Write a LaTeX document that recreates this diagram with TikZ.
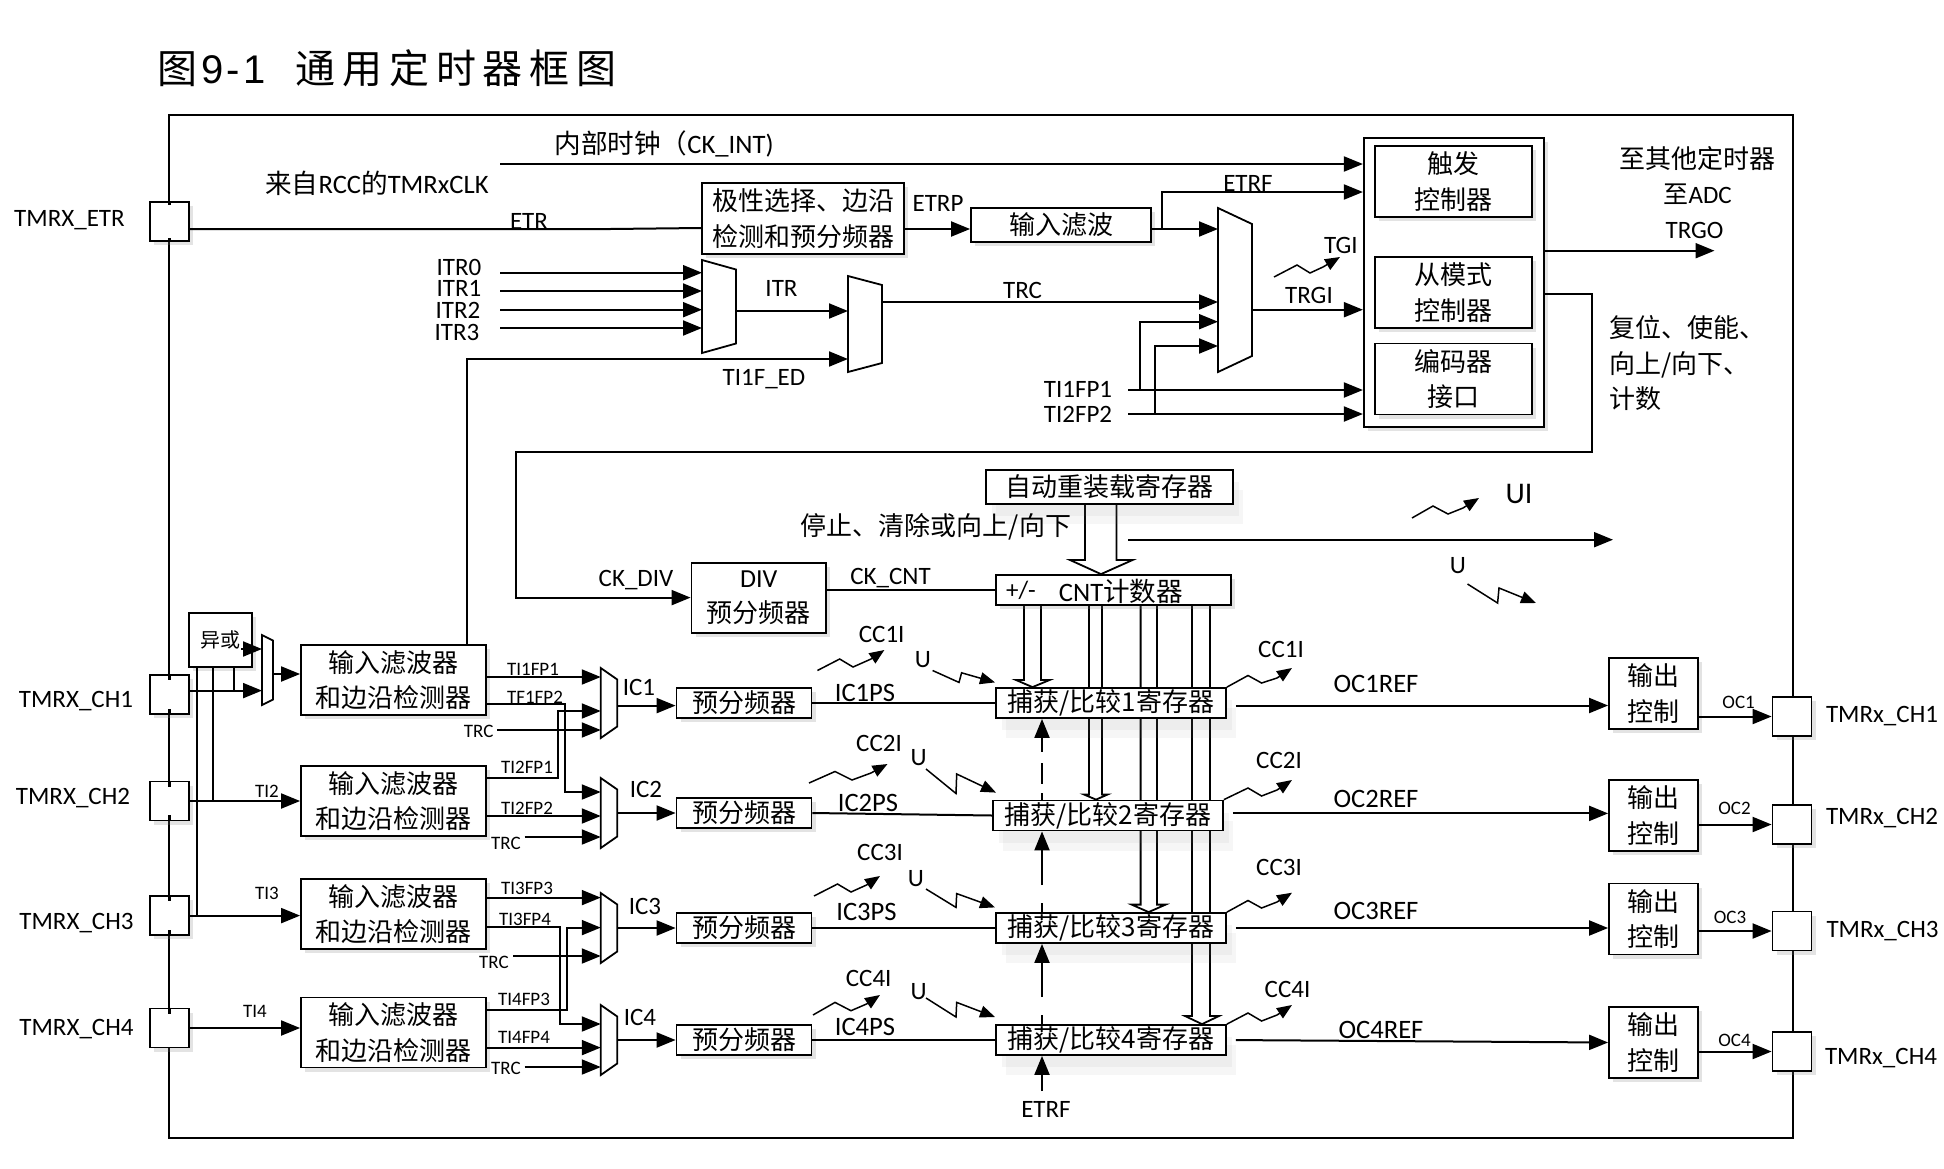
\documentclass[tikz,border=0pt]{standalone}
\usepackage{fontspec}
\usetikzlibrary{arrows.meta,shadows,backgrounds}
\setmainfont{Carlito}
\newfontfamily\cjk{Noto Sans CJK SC}
\newfontfamily\titlefont{Noto Sans CJK SC}[LetterSpace=17]
\newfontfamily\titlenum{Liberation Sans}[LetterSpace=8]
\newlength{\du}
\setlength{\du}{0.5pt}
\definecolor{dialinecolor}{rgb}{0.000000, 0.000000, 0.000000}
\tikzset{
  lbl/.style={inner sep=0pt, text=dialinecolor, font=\fontsize{12.5}{15}\selectfont},
  lblb/.style={inner sep=0pt, text=dialinecolor, font=\fontsize{13.3}{15}\selectfont},
  lbls/.style={inner sep=0pt, text=dialinecolor, font=\fontsize{9.5}{11}\selectfont},
  lblz/.style={inner sep=0pt, text=dialinecolor, align=left, font=\cjk\fontsize{13}{17.7}\selectfont},
  softbox/.style={draw=dialinecolor, fill=white, line width=1.8\du, inner sep=0pt, align=center,
    font=\cjk\fontsize{13}{17.7}\selectfont,
    drop shadow={shadow xshift=2pt, shadow yshift=-2pt, opacity=0.22}},
  regshadow/.style={draw=dialinecolor, fill=white, line width=1.8\du, inner sep=0pt, align=center,
    font=\cjk\fontsize{13}{17.7}\selectfont,
    drop shadow={shadow xshift=5pt, shadow yshift=-10pt, opacity=0.07},
    drop shadow={shadow xshift=3pt, shadow yshift=-6pt, opacity=0.08}},
  padbox/.style={softbox, minimum width=39\du, minimum height=39\du},
  filterbox/.style={softbox, minimum width=185\du, minimum height=70\du},
  prebox/.style={softbox, minimum width=135\du, minimum height=30\du},
  regbox/.style={regshadow, minimum width=230\du, minimum height=30\du},
  outbox/.style={softbox, minimum width=89\du, minimum height=71\du},
  modebox/.style={softbox, minimum width=157\du, minimum height=71\du},
  muxline/.style={draw=dialinecolor, fill=white, line width=1.8\du},
  frameline/.style={draw=dialinecolor, line width=2.6\du},
  wire/.style={draw=dialinecolor, line width=2\du},
  arr/.style={wire, -{Triangle[length=9.5pt,width=7.5pt]}},
  zig/.style={draw=dialinecolor, line width=1.5\du, -{Triangle[length=7.5pt,width=6pt]}},
  hollowline/.style={draw=dialinecolor, line width=1.8\du, line join=miter},
}
\newcommand{\muxnode}[6]{%
  \node[inner sep=0pt, outer sep=0pt, minimum width=#4\du, minimum height=#5\du] (#1) at (#2\du,#3\du) {};
  \draw[muxline] (#1.north west) -- ([yshift=#6\du]#1.north east) -- ([yshift=-#6\du]#1.south east) -- (#1.south west) -- cycle;}
\newcommand{\bigarrow}[8]{%
  \draw[hollowline] (#3\du,0 |- #1.south) -- (#3\du,#7\du) -- (#5\du,#7\du) -- (#8\du,0 |- #2.north)
    -- (#6\du,#7\du) -- (#4\du,#7\du) -- (#4\du,0 |- #1.south);}
\newcommand{\lowtext}[1]{\raisebox{-1.2pt}{#1}}
\begin{document}
\begin{tikzpicture}
\pgftransformxscale{1.000000}
\pgftransformyscale{-1.000000}
\useasboundingbox (0,0) rectangle (1944\du,1168\du);
\node[anchor=west, inner sep=0pt, font=\titlefont\fontsize{20}{24}\selectfont] (title) at (157\du,68\du) {图{\titlenum\hspace{2pt}9-1}\hspace{15pt}通用定时器框图};
\draw[frameline] (169\du,115\du) rectangle (1793\du,1138\du);
% pads
\node[padbox] (padE) at (169.5\du,221.5\du) {};
\node[padbox] (chA) at (169.5\du,694.5\du) {};
\node[padbox] (chB) at (169.5\du,801\du) {};
\node[padbox] (chC) at (169.5\du,915.5\du) {};
\node[padbox] (chD) at (169.5\du,1028\du) {};
\node[padbox] (rchA) at (1792\du,716.5\du) {};
\node[padbox] (rchB) at (1792\du,824.5\du) {};
\node[padbox] (rchC) at (1792\du,931\du) {};
\node[padbox] (rchD) at (1792\du,1051.5\du) {};
\draw[frameline] (padE.north) -- ++(0,4\du) (padE.south) -- ++(0,-4\du);
\draw[frameline] (chA.north) -- ++(0,6\du) (chA.south) -- ++(0,-6\du);
\draw[frameline] (chB.north) -- ++(0,6\du) (chB.south) -- ++(0,-6\du);
\draw[frameline] (chC.north) -- ++(0,6\du) (chC.south) -- ++(0,-6\du);
\draw[frameline] (chD.north) -- ++(0,6\du);
\node[lbl] (tE) at (69.5\du,220.5\du) {TMRX\_ETR};
\node[lbl] (tA) at (76\du,701.5\du) {TMRX\_CH1};
\node[lbl] (tB) at (73\du,798.5\du) {TMRX\_CH2};
\node[lbl] (tC) at (76.5\du,923\du) {TMRX\_CH3};
\node[lbl] (tD) at (76.5\du,1029\du) {TMRX\_CH4};
\node[lbl] (rtA) at (1882\du,716.5\du) {TMRx\_CH1};
\node[lbl] (rtB) at (1882\du,818.5\du) {TMRx\_CH2};
\node[lbl] (rtC) at (1882.5\du,931\du) {TMRx\_CH3};
\node[lbl] (rtD) at (1881\du,1058\du) {TMRx\_CH4};
% top part
\node[lblb] (ckint) at (664\du,143.5\du) {{\cjk 内部时钟（}CK\_INT)};
\node[lblb] (rcc) at (377\du,183.5\du) {{\cjk 来自}RCC{\cjk 的}TMRxCLK};
\node[softbox, minimum width=202\du, minimum height=71\du] (pol) at (803\du,218.5\du) {极性选择、边沿\\检测和预分频器};
\node[softbox, minimum width=180\du, minimum height=34\du] (inflt) at (1061\du,225\du) {输入滤波};
\node[softbox, minimum width=180\du, minimum height=289\du] (ctr) at (1453.8\du,282.5\du) {};
\node[modebox] (trig) at (1453.5\du,181.5\du) {触发\\控制器};
\node[modebox] (slave) at (1453.5\du,292.5\du) {从模式\\控制器};
\node[modebox] (enc) at (1453.5\du,379\du) {编码器\\接口};
\muxnode{mITR}{719}{306.5}{34}{93}{9.5}
\muxnode{mSel}{865}{324}{34}{96}{9}
\muxnode{mTrg}{1235}{290}{34}{164}{16}
\node[lbl] (tETR) at (529\du,221\du) {ETR};
\node[lbl] (tETRP) at (938\du,203\du) {ETRP};
\node[lbl] (tETRF) at (1248\du,183\du) {ETRF};
\node[lbl] (tI0) at (459\du,267\du) {ITR0};
\node[lbl] (tI1) at (459\du,288.5\du) {ITR1};
\node[lbl] (tI2) at (458\du,310\du) {ITR2};
\node[lbl] (tI3) at (457\du,332\du) {ITR3};
\node[lbl] (tITR) at (781.5\du,288\du) {ITR};
\node[lbl] (tED) at (764\du,379\du) {TI1F\_ED};
\node[lbl] (tTRC) at (1022.5\du,290\du) {TRC};
\node[lbl] (tFPa) at (1078\du,389\du) {TI1FP1};
\node[lbl] (tFPb) at (1078\du,414\du) {TI2FP2};
\node[lbl] (tTRGI) at (1309\du,295\du) {TRGI};
\node[lbl] (tTGI) at (1341\du,245\du) {TGI};
\node[lblz, align=center] (tOther) at (1697.7\du,158.5\du) {至其他定时器};
\node[lbl] (tADC) at (1697.7\du,194\du) {{\cjk 至}ADC};
\node[lbl] (tTRGO) at (1694.6\du,230.7\du) {TRGO};
\node[lblz, anchor=north west] (tReset) at (1609\du,315.5\du) {复位、使能、\\向上/向下、\\计数};
\coordinate (ckStart) at (500\du,164\du);
\coordinate (itrA) at (500\du,272.7\du);
\coordinate (itrB) at (500\du,291\du);
\coordinate (itrC) at (500\du,309.7\du);
\coordinate (itrD) at (500\du,328\du);
\coordinate (fpA) at (1128\du,390\du);
\coordinate (fpB) at (1128\du,414\du);
\coordinate (jF) at (1162\du,229\du);
\coordinate (jA) at (1139.5\du,390\du);
\coordinate (jB) at (1155\du,414\du);
\coordinate (trgoEnd) at (1714.5\du,250.7\du);
\draw[arr] (ckStart) -- (ctr.west |- ckStart);
\draw[wire] (padE.east |- 0,229\du) -- (610\du,229\du) -- (pol.west |- 0,228\du);
\draw[arr] (pol.east |- 0,229\du) -- (inflt.west |- 0,229\du);
\draw[arr] (inflt.east |- 0,229\du) -- (mTrg.west |- 0,229\du);
\draw[arr] (jF) |- (ctr.west |- 0,192\du);
\draw[arr] (itrA) -- (mITR.west |- itrA);
\draw[arr] (itrB) -- (mITR.west |- itrB);
\draw[arr] (itrC) -- (mITR.west |- itrC);
\draw[arr] (itrD) -- (mITR.west |- itrD);
\draw[arr] (mITR.east |- 0,311\du) -- (mSel.west |- 0,311\du);
\draw[arr] (mSel.east |- 0,302\du) -- (mTrg.west |- 0,302\du);
\draw[arr] (fpA) -- (ctr.west |- fpA);
\draw[arr] (fpB) -- (ctr.west |- fpB);
\draw[arr] (jA) |- (mTrg.west |- 0,321.7\du);
\draw[arr] (jB) |- (mTrg.west |- 0,346\du);
\draw[arr] (mTrg.east |- 0,309.7\du) -- (ctr.west |- 0,309.7\du);
\draw[arr] (ctr.east |- trgoEnd) -- (trgoEnd);
\draw[zig] (1274\du,277\du) -- (1297\du,265\du) -- (1310\du,273\du) -- (1323\du,267\du) -- (1340\du,257\du);
% reload and counter
\node[regshadow, minimum width=247\du, minimum height=34\du] (reload) at (1109.5\du,487\du) {自动重装载寄存器};
\node[softbox, minimum width=134.5\du, minimum height=70\du] (dv) at (758.75\du,598\du) {\rmfamily DIV\\\cjk 预分频器};
\node[softbox, minimum width=235\du, minimum height=30\du] (cnt) at (1113.5\du,590\du) {};
\node[lbl] (cntSign) at (1021\du,590\du) {+/-};
\node[lblb] (cntText) at (1121\du,591\du) {CNT{\cjk 计数器}};
\node[lblz] (tStop) at (936\du,527\du) {停止、清除或向上/向下};
\node[lbl] (tDIV) at (636\du,580\du) {CK\_DIV};
\node[lbl] (tCNT) at (890.6\du,578\du) {CK\_CNT};
\node[font=\fontsize{15}{18}\selectfont, inner sep=0pt] (tUI) at (1519\du,494\du) {UI};
\node[lbl] (tU) at (1458\du,566\du) {U};
\coordinate (uiStart) at (1128\du,539.7\du);
\coordinate (uiEnd) at (1613\du,539.7\du);
\draw[arr] (uiStart) -- (uiEnd);
\draw[zig] (1412\du,518\du) -- (1433\du,506\du) -- (1448\du,514\du) -- (1463\du,508\du) -- (1479\du,498\du);
\draw[zig] (1467.5\du,584\du) -- (1497.6\du,603\du) -- (1499\du,588\du) -- (1536\du,603\du);
\draw[arr] (ctr.east |- 0,294\du) -- (1592\du,294\du) -- (1592\du,451.7\du) -- (515.7\du,451.7\du) -- (515.7\du,597.6\du) -- (dv.west |- 0,597.6\du);
\draw[wire] (dv.east |- cnt.west) -- (cnt.west);
% input stage
\node[softbox, line width=1.8\du, minimum width=63\du, minimum height=54\du, font=\cjk\fontsize{10}{12}\selectfont] (xorb) at (220.5\du,640\du) {异或};
\muxnode{mX}{267.5}{670}{11}{70}{5.5}
\node[filterbox] (fA) at (393.5\du,680\du) {输入滤波器\\和边沿检测器};
\node[filterbox] (fB) at (393.5\du,801\du) {输入滤波器\\和边沿检测器};
\node[filterbox] (fC) at (393.5\du,914\du) {输入滤波器\\和边沿检测器};
\node[filterbox] (fD) at (393.5\du,1032.5\du) {输入滤波器\\和边沿检测器};
\muxnode{mA}{609}{703}{16.5}{70}{11.5}
\muxnode{mB}{609}{813}{16.5}{70}{11.5}
\muxnode{mC}{609}{928}{16.5}{70}{11.5}
\muxnode{mD}{609}{1040}{16.5}{70}{11.5}
\node[prebox] (pA) at (744\du,703\du) {预分频器};
\node[prebox] (pB) at (744\du,813\du) {预分频器};
\node[prebox] (pC) at (744\du,928\du) {预分频器};
\node[prebox] (pD) at (744\du,1040\du) {预分频器};
\node[lbls] (tiB) at (267\du,791\du) {TI2};
\node[lbls] (tiC) at (267\du,893\du) {TI3};
\node[lbls] (tiD) at (255\du,1011\du) {TI4};
\node[lbls] (lAa) at (533\du,669\du) {TI1FP1};
\node[lbls] (lAb) at (535\du,697\du) {TF1FP2};
\node[lbls] (lAc) at (478.6\du,731\du) {TRC};
\node[lbls] (lBa) at (527\du,767\du) {TI2FP1};
\node[lbls] (lBb) at (527\du,808\du) {TI2FP2};
\node[lbls] (lBc) at (506\du,843\du) {TRC};
\node[lbls] (lCa) at (527\du,888\du) {TI3FP3};
\node[lbls] (lCb) at (525\du,919\du) {TI3FP4};
\node[lbls] (lCc) at (494\du,962\du) {TRC};
\node[lbls] (lDa) at (524\du,999\du) {TI4FP3};
\node[lbls] (lDb) at (524\du,1037\du) {TI4FP4};
\node[lbls] (lDc) at (506\du,1068\du) {TRC};
\node[lbl] (icA) at (639\du,687\du) {IC1};
\node[lbl] (icB) at (646\du,789\du) {IC2};
\node[lbl] (icC) at (645\du,906\du) {IC3};
\node[lbl] (icD) at (640\du,1017.6\du) {IC4};
\coordinate (trcA) at (497\du,730\du);
\coordinate (trcB) at (524.5\du,837\du);
\coordinate (trcC) at (513\du,956\du);
\coordinate (trcD) at (524.5\du,1067\du);
\draw[arr] (241\du,649\du) -- (mX.west |- 0,649\du);
\draw[arr] (chA.east |- 0,690.6\du) -- (mX.west |- 0,690.6\du);
\draw[arr] (mX.east |- 0,674\du) -- (fA.west |- 0,674\du);
\draw[wire] (xorb.south -| 233.5\du,0) -- (233.5\du,690.6\du);
\draw[wire] (xorb.south -| 213\du,0) -- (213\du,801\du);
\draw[wire] (xorb.south -| 197\du,0) -- (197\du,915.6\du);
\draw[arr] (chB.east) -- (fB.west);
\draw[arr] (chC.east |- 0,915.6\du) -- (fC.west |- 0,915.6\du);
\draw[arr] (chD.east) -- (fD.west |- chD.east);
\draw[arr] (fA.north -| 467\du,0) -- (467\du,359\du) -- (mSel.west |- 0,359\du);
\draw[arr] (fA.east |- 0,677\du) -- (mA.west |- 0,677\du);
\draw[arr] (fA.east |- 0,704\du) -- (565\du,704\du) -- (565\du,792\du) -- (mB.west |- 0,792\du);
\draw[arr] (fB.east |- 0,778\du) -- (558\du,778\du) -- (558\du,711\du) -- (mA.west |- 0,711\du);
\draw[arr] (trcA) -- (mA.west |- trcA);
\draw[arr] (fB.east |- 0,816\du) -- (mB.west |- 0,816\du);
\draw[arr] (trcB) -- (mB.west |- trcB);
\draw[arr] (fC.east |- 0,897.6\du) -- (mC.west |- 0,897.6\du);
\draw[arr] (fC.east |- 0,927\du) -- (560\du,927\du) -- (560\du,1024\du) -- (mD.west |- 0,1024\du);
\draw[arr] (fD.east |- 0,1010\du) -- (566.5\du,1010\du) -- (566.5\du,927.6\du) -- (mC.west |- 0,927.6\du);
\draw[arr] (trcC) -- (mC.west |- trcC);
\draw[arr] (fD.east |- 0,1047.6\du) -- (mD.west |- 0,1047.6\du);
\draw[arr] (trcD) -- (mD.west |- trcD);
\draw[arr] (mA.east |- 0,705.6\du) -- (pA.west |- 0,705.6\du);
\draw[arr] (mB.east) -- (pB.west);
\draw[arr] (mC.east) -- (pC.west);
\draw[arr] (mD.east) -- (pD.west);
% capture compare registers
\node[regbox] (capA) at (1111\du,703\du) {\lowtext{捕获/比较1寄存器}};
\node[regbox] (capB) at (1108\du,815.5\du) {\lowtext{捕获/比较2寄存器}};
\node[regbox] (capC) at (1111\du,928\du) {\lowtext{捕获/比较3寄存器}};
\node[regbox] (capD) at (1111\du,1040\du) {\lowtext{捕获/比较4寄存器}};
\begin{scope}[on background layer]
\bigarrow{reload}{cnt}{1085}{1116.5}{1070}{1132.6}{560}{1101}
\bigarrow{cnt}{capA}{1024}{1041}{1016}{1049.6}{680}{1032.5}
\bigarrow{cnt}{capB}{1089}{1102}{1084}{1107.6}{794.5}{1096}
\bigarrow{cnt}{capC}{1140.6}{1157}{1131.7}{1165.6}{904.6}{1148.6}
\bigarrow{cnt}{capD}{1192}{1210}{1185}{1219}{1016}{1202}
\end{scope}
\draw[wire] (pA.east) -- (capA.west);
\draw[wire] (pB.east) -- (capB.west);
\draw[wire] (pC.east) -- (capC.west);
\draw[wire] (pD.east) -- (capD.west);
\node[lblb] (psA) at (865\du,693\du) {IC1PS};
\node[lblb] (psB) at (868\du,803\du) {IC2PS};
\node[lblb] (psC) at (866.5\du,911.5\du) {IC3PS};
\node[lblb] (psD) at (865\du,1027\du) {IC4PS};
\node[lbl] (cclA) at (881.7\du,634\du) {CC1I};
\node[lbl] (cclB) at (879\du,743\du) {CC2I};
\node[lbl] (cclC) at (880\du,852\du) {CC3I};
\node[lbl] (cclD) at (868.7\du,978\du) {CC4I};
\node[lbl] (uA) at (923\du,659.5\du) {U};
\node[lbl] (uB) at (918.7\du,757.7\du) {U};
\node[lbl] (uC) at (916\du,879\du) {U};
\node[lbl] (uD) at (918.7\du,992\du) {U};
\node[lbl] (ccrA) at (1281\du,649\du) {CC1I};
\node[lbl] (ccrB) at (1279\du,760\du) {CC2I};
\node[lbl] (ccrC) at (1279\du,867\du) {CC3I};
\node[lbl] (ccrD) at (1287.5\du,989.6\du) {CC4I};
\draw[zig] (817.4\du,670.5\du) -- (839.7\du,659\du) -- (853\du,667\du) -- (871\du,659\du) -- (884.4\du,650\du);
\draw[zig] (809\du,783\du) -- (835\du,771.5\du) -- (852\du,780\du) -- (871\du,773\du) -- (887.5\du,764\du);
\draw[zig] (814\du,896\du) -- (837.5\du,884\du) -- (851\du,892\du) -- (866.5\du,885\du) -- (880\du,876\du);
\draw[zig] (813\du,1015\du) -- (835\du,1002.4\du) -- (851\du,1010.7\du) -- (866.5\du,1004\du) -- (880\du,995\du);
\draw[zig] (932.6\du,670.5\du) -- (959\du,682.4\du) -- (961.6\du,672.8\du) -- (995\du,682.4\du);
\draw[zig] (926\du,769\du) -- (956\du,793.5\du) -- (956.7\du,774\du) -- (996\du,792.6\du);
\draw[zig] (926\du,889\du) -- (956\du,907.4\du) -- (956.7\du,893.6\du) -- (995\du,907.4\du);
\draw[zig] (926\du,998\du) -- (956\du,1017\du) -- (956.7\du,1002.4\du) -- (995\du,1017\du);
\draw[zig] (capA.north east) -- (1248\du,675.5\du) -- (1261.6\du,683\du) -- (1277\du,678\du) -- (1292\du,668\du);
\draw[zig] (capB.north east) -- (1248\du,788\du) -- (1261.6\du,796\du) -- (1277\du,790\du) -- (1292\du,780\du);
\draw[zig] (capC.north east) -- (1248\du,900.5\du) -- (1261.6\du,908\du) -- (1277\du,902\du) -- (1292\du,892.7\du);
\draw[zig] (capD.north east) -- (1248\du,1013\du) -- (1261.6\du,1021\du) -- (1277\du,1015\du) -- (1292\du,1005\du);
\coordinate (etrfIn) at (1042\du,1091\du);
\node[lbl] (tETRFb) at (1046\du,1109\du) {ETRF};
\draw[arr] (etrfIn) -- (capD.south -| etrfIn);
\draw[arr, dash pattern=on 9\du off 18\du on 100\du off 0pt] (capD.north -| etrfIn) -- (capC.south -| etrfIn);
\draw[arr, dash pattern=on 9\du off 18\du on 100\du off 0pt] (capC.north -| etrfIn) -- (capB.south -| etrfIn);
\draw[arr, dash pattern=on 7\du off 9\du on 21\du off 11\du on 60\du off 0pt] (capB.north -| etrfIn) -- (capA.south -| etrfIn);
% output stage
\node[outbox] (oA) at (1653.5\du,693.5\du) {输出\\控制};
\node[outbox] (oB) at (1653.5\du,815.5\du) {输出\\控制};
\node[outbox] (oC) at (1653.5\du,919\du) {输出\\控制};
\node[outbox] (oD) at (1653.5\du,1042.5\du) {输出\\控制};
\node[lblb] (refA) at (1376\du,684\du) {OC1REF};
\node[lblb] (refB) at (1376\du,799\du) {OC2REF};
\node[lblb] (refC) at (1376\du,910.7\du) {OC3REF};
\node[lblb] (refD) at (1381\du,1029.7\du) {OC4REF};
\node[lbls] (ocA) at (1738.6\du,702\du) {OC1};
\node[lbls] (ocB) at (1734.5\du,808.6\du) {OC2};
\node[lbls] (ocC) at (1730\du,917\du) {OC3};
\node[lbls] (ocD) at (1734.5\du,1040.7\du) {OC4};
\draw[arr, shorten <=9\du] (capA.east |- 0,705.5\du) -- (oA.west |- 0,705.5\du);
\draw[arr, shorten <=9\du] (capB.east |- 0,813.4\du) -- (oB.west |- 0,813.4\du);
\draw[arr, shorten <=9\du] (capC.east |- 0,928\du) -- (oC.west |- 0,928\du);
\draw[arr, shorten <=9\du] (capD.east) -- (oD.west);
\draw[arr] (oA.east |- rchA.west) -- (rchA.west);
\draw[arr] (oB.east |- rchB.west) -- (rchB.west);
\draw[arr] (oC.east |- rchC.west) -- (rchC.west);
\draw[arr] (oD.east |- rchD.west) -- (rchD.west);
\end{tikzpicture}
\end{document}
